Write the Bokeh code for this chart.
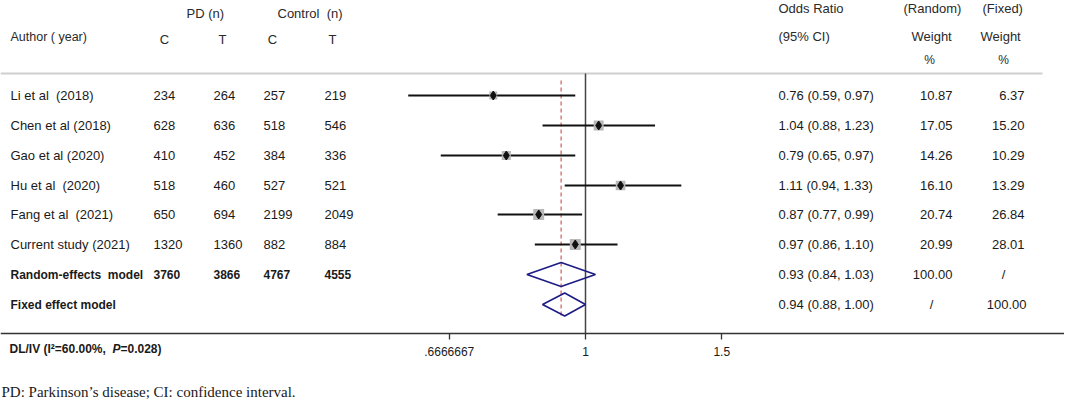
import math
from bokeh.plotting import figure
from bokeh.models import Range1d, FixedTicker
from bokeh.embed import file_html
from bokeh.resources import INLINE
from bokeh.core.properties import value

# ---------------- data ----------------
studies = ["Li et al\u00a0 (2018)", "Chen et al (2018)", "Gao et al (2020)",
           "Hu et al\u00a0 (2020)", "Fang et al\u00a0 (2021)", "Current study (2021)"]
pd_c = [234, 628, 410, 518, 650, 1320]
pd_t = [264, 636, 452, 460, 694, 1360]
ctrl_c = [257, 518, 384, 527, 2199, 882]
ctrl_t = [219, 546, 336, 521, 2049, 884]
odds_ratio = [0.76, 1.04, 0.79, 1.11, 0.87, 0.97]
ci_low = [0.59, 0.88, 0.65, 0.94, 0.77, 0.86]
ci_high = [0.97, 1.23, 0.97, 1.33, 0.99, 1.10]
weight_random = [10.87, 17.05, 14.26, 16.10, 20.74, 20.99]
weight_fixed = [6.37, 15.20, 10.29, 13.29, 26.84, 28.01]

pooled_names = ["Random-effects\u00a0 model", "Fixed effect model"]
pooled_or = [0.93, 0.94]
pooled_low = [0.84, 0.88]
pooled_high = [1.03, 1.00]
random_totals = [3760, 3866, 4767, 4555]
pooled_w_random = ["100.00", "/"]
pooled_w_fixed = ["/", "100.00"]

tick_values = [0.6666667, 1, 1.5]
tick_labels = [".6666667", "1", "1.5"]
het_parts = ["DL/IV (I²=60.00%,\u00a0 ", "P", "=0.028)"]
footnote = "PD: Parkinson\u2019s disease; CI: confidence interval."

# ---------------- layout ----------------
W, H = 1064, 400
X1 = 585.0   # pixel x of OR = 1
K = 336.0    # px per ln unit


def fx(px):
    return math.exp((px - X1) / K)


row_y = [95, 125, 155, 185, 214, 244]
pooled_y = [274, 304]
pooled_half = [12, 11.5]

FONT = "Liberation Sans"
INK = "#1a1a1a"
HEAD = "#2a2a2a"

p = figure(width=W, height=H, x_axis_type="log",
           x_range=Range1d(fx(0), fx(W)), y_range=Range1d(H, 0),
           y_axis_location=None, output_backend="svg", toolbar_location=None,
           min_border_left=0, min_border_right=0, min_border_top=0,
           min_border_bottom=0)
p.grid.visible = False
p.outline_line_color = None
p.background_fill_color = "white"

ax = p.xaxis[0]
ax.fixed_location = 333
ax.ticker = FixedTicker(ticks=tick_values)
ax.major_label_overrides = dict(zip(tick_values, tick_labels))
ax.axis_line_color = "#333333"
ax.axis_line_width = 1.5
ax.major_tick_line_color = "#333333"
ax.major_tick_line_width = 1.3
ax.major_tick_out = 6
ax.major_tick_in = 0
ax.minor_tick_line_color = None
ax.major_label_text_font = FONT
ax.major_label_text_font_size = "12px"
ax.major_label_text_color = INK
ax.major_label_standoff = 7


def txt(xs, ys, texts, align="left", size="13px", style="normal", color=INK, font=FONT):
    p.text(x=[fx(v) for v in xs], y=ys, text=texts, text_align=align,
           text_baseline="middle", text_font=value(font), text_font_size=size,
           text_font_style=style, text_color=color)


# header
txt([186, 277], [13, 13], ["PD (n)", "Control\u00a0 (n)"], color=HEAD)
txt([10], [36], ["Author ( year)"], size="12.5px", color=HEAD)
txt([164, 222, 272, 332], [39] * 4, ["C", "T", "C", "T"], align="center", color=HEAD)
txt([778, 903, 982], [8, 8, 8], ["Odds Ratio", "(Random)", "(Fixed)"], color=HEAD)
txt([778, 911, 980], [36, 36, 36], ["(95% CI)", "Weight", "Weight"], color=HEAD)
txt([929, 1003], [59, 59], ["%", "%"], align="center", size="12px", color=HEAD)

# separator line
p.segment(x0=[fx(0)], y0=[73], x1=[fx(1042)], y1=[73], line_color="#cfcfcf", line_width=2)

# study rows
txt([10] * 6, row_y, studies)
txt([153] * 6, row_y, [str(v) for v in pd_c])
txt([213] * 6, row_y, [str(v) for v in pd_t])
txt([263] * 6, row_y, [str(v) for v in ctrl_c])
txt([324] * 6, row_y, [str(v) for v in ctrl_t])
txt([778] * 6, row_y, [f"{o:.2f} ({l:.2f}, {h:.2f})" for o, l, h in zip(odds_ratio, ci_low, ci_high)])
txt([952] * 6, row_y, [f"{w:.2f}" for w in weight_random], align="right")
txt([1024] * 6, row_y, [f"{w:.2f}" for w in weight_fixed], align="right")

# pooled rows
txt([10, 10], pooled_y, pooled_names, size="12px", style="bold")
txt([153, 213, 263, 324], [pooled_y[0]] * 4, [str(v) for v in random_totals], size="12px", style="bold")
txt([778, 778], pooled_y, [f"{o:.2f} ({l:.2f}, {h:.2f})" for o, l, h in zip(pooled_or, pooled_low, pooled_high)])
for i in range(2):
    if pooled_w_random[i] == "/":
        txt([931], [pooled_y[i]], ["/"], align="center")
    else:
        txt([952], [pooled_y[i]], [pooled_w_random[i]], align="right")
    if pooled_w_fixed[i] == "/":
        txt([1003], [pooled_y[i]], ["/"], align="center")
    else:
        txt([1026], [pooled_y[i]], [pooled_w_fixed[i]], align="right")

# forest plot
p.segment(x0=[1], y0=[73], x1=[1], y1=[333], line_color="#444444", line_width=1.5)
p.segment(x0=[pooled_or[0]], y0=[80], x1=[pooled_or[0]], y1=[317],
          line_color="#d25a5a", line_width=1.2, line_dash="4 3")
p.segment(x0=ci_low, y0=row_y, x1=ci_high, y1=row_y, line_color="#111111", line_width=1.8)
p.scatter(x=odds_ratio, y=row_y, marker="square",
          size=[2.4 * math.sqrt(w) for w in weight_random],
          fill_color="#b8b8b8", line_color=None)
p.scatter(x=odds_ratio, y=row_y, marker="diamond", size=9,
          fill_color="#111111", line_color="#111111")
p.patches(xs=[[l, o, h, o] for l, o, h in zip(pooled_low, pooled_or, pooled_high)],
          ys=[[y, y - d, y, y + d] for y, d in zip(pooled_y, pooled_half)],
          fill_color=None, line_color="#1c1c84", line_width=1.6)

# texts below the axis line
txt([9], [348], [het_parts[0]], size="12px", style="bold")
txt([112], [348], [het_parts[1]], size="12px", style="bold italic")
txt([120], [348], [het_parts[2]], size="12px", style="bold")
txt([1], [391], [footnote], size="15px", font="Liberation Serif")

open("out.html", "w").write(file_html(p, INLINE))
